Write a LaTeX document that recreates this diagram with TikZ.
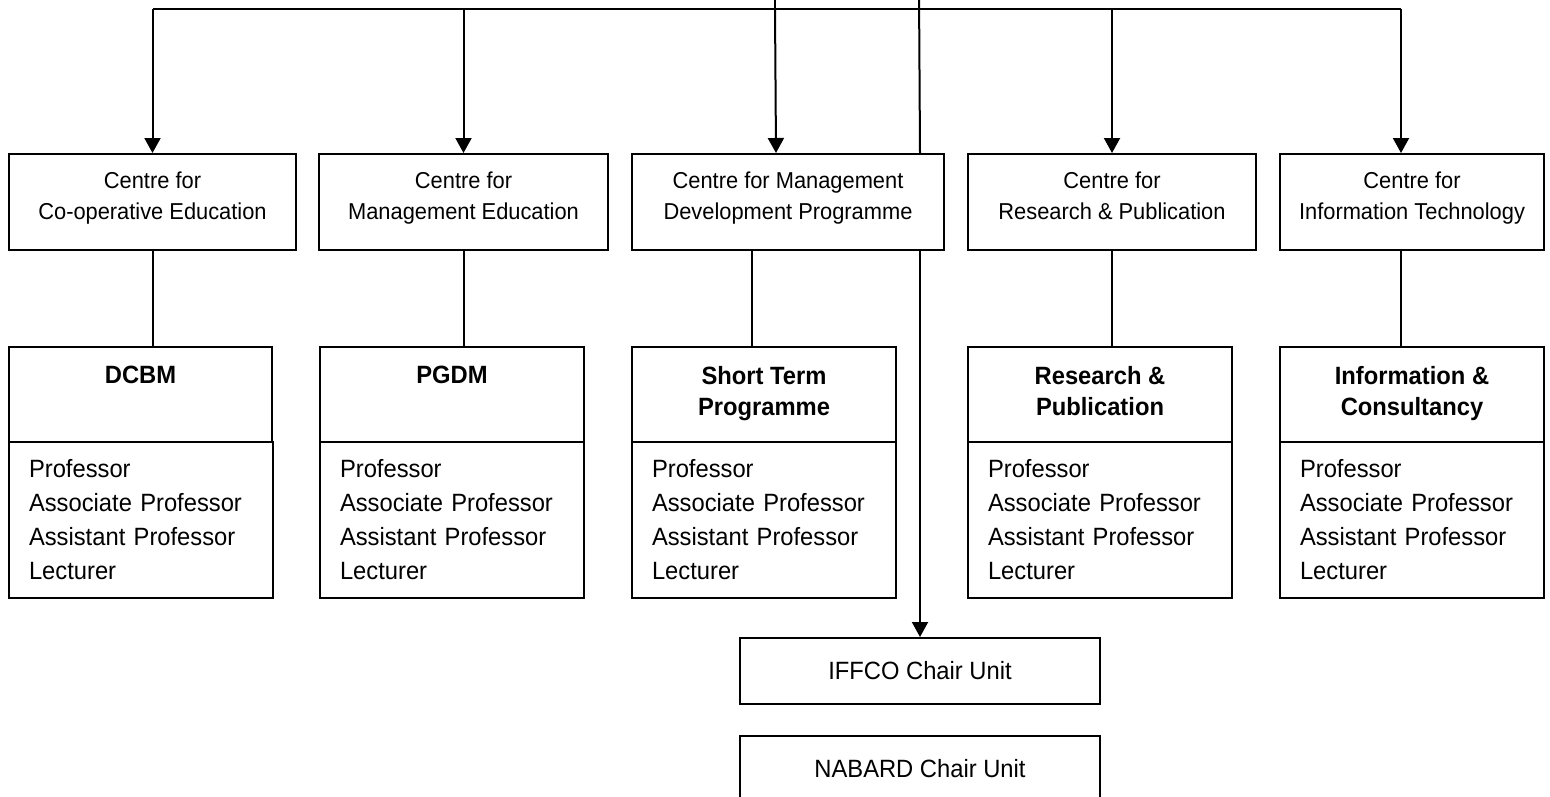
\documentclass[tikz,border=0pt]{standalone}
\usepackage{fontspec}
\setmainfont{Liberation Sans}[FakeStretch=0.95]
\usetikzlibrary{arrows.meta}
\begin{document}
\begin{tikzpicture}[x=1pt,y=-1pt,
  line width=2pt,
  box/.style={draw, line width=2pt, inner sep=0pt, anchor=north west, fill=white},
  lbl/.style={inner sep=0pt, align=center, font=\fontsize{23}{31}\selectfont},
  ttl/.style={inner sep=0pt, align=center, font=\fontsize{25}{31}\selectfont\bfseries},
  staff/.style={box, inner xsep=20pt, inner ysep=0pt, align=left, text width=224pt,
    minimum height=156pt, font=\fontsize{25}{34}\selectfont},
  unit/.style={box, minimum width=360pt, minimum height=66pt, font=\fontsize{25}{30}\selectfont},
  arr/.style={-{Triangle[width=16pt,length=15pt]}}]
\clip (0,0) rectangle (1550,796);
\useasboundingbox (0,0) rectangle (1550,796);

% row 1: centres
\node[box, minimum width=287pt, minimum height=96pt] (r1a) at (8,153) {};
\node[box, minimum width=289pt, minimum height=96pt] (r1b) at (318,153) {};
\node[box, minimum width=312pt, minimum height=96pt] (r1c) at (631,153) {};
\node[box, minimum width=288pt, minimum height=96pt] (r1d) at (967,153) {};
\node[box, minimum width=264pt, minimum height=96pt] (r1e) at (1279,153) {};

\node[lbl, anchor=north] (l1a) at ([yshift=-18pt]r1a.north) {Centre for\\Co-operative Education};
\node[lbl, anchor=north] (l1b) at ([yshift=-18pt]r1b.north) {Centre for\\Management Education};
\node[lbl, anchor=north] (l1c) at ([yshift=-18pt]r1c.north) {Centre for Management\\Development Programme};
\node[lbl, anchor=north] (l1d) at ([yshift=-18pt]r1d.north) {Centre for\\Research \& Publication};
\node[lbl, anchor=north] (l1e) at ([yshift=-18pt]r1e.north) {Centre for\\Information Technology};

% row 2: programme titles
\node[box, minimum width=263pt, minimum height=95pt] (t2a) at (8,346) {};
\node[box, minimum width=264pt, minimum height=95pt] (t2b) at (319,346) {};
\node[box, minimum width=264pt, minimum height=95pt] (t2c) at (631,346) {};
\node[box, minimum width=264pt, minimum height=95pt] (t2d) at (967,346) {};
\node[box, minimum width=264pt, minimum height=95pt] (t2e) at (1279,346) {};

\node[ttl, anchor=north] (h2a) at ([yshift=-19pt]t2a.north) {DCBM};
\node[ttl, anchor=north] (h2b) at ([yshift=-19pt]t2b.north) {PGDM};
\node[ttl, anchor=north] (h2c) at ([yshift=-19pt]t2c.north) {Short Term\\Programme};
\node[ttl, anchor=north] (h2d) at ([yshift=-19pt]t2d.north) {Research \&\\Publication};
\node[ttl, anchor=north] (h2e) at ([yshift=-19pt]t2e.north) {Information \&\\Consultancy};

% row 2: staff
\node[staff] (s2a) at (8,441) {Professor\\Associate Professor\\Assistant Professor\\Lecturer};
\node[staff] (s2b) at (319,441) {Professor\\Associate Professor\\Assistant Professor\\Lecturer};
\node[staff] (s2c) at (631,441) {Professor\\Associate Professor\\Assistant Professor\\Lecturer};
\node[staff] (s2d) at (967,441) {Professor\\Associate Professor\\Assistant Professor\\Lecturer};
\node[staff] (s2e) at (1279,441) {Professor\\Associate Professor\\Assistant Professor\\Lecturer};

% chair units
\node[unit] (iffco) at (739,637) {IFFCO Chair Unit};
\node[unit] (nabard) at (739,735) {NABARD Chair Unit};

% top bus
\coordinate (bus) at (0,9);
\coordinate (p1) at (775,-10);
\coordinate (p2) at (919,-10);
\coordinate (ae) at ([xshift=-11pt]r1e.north);
\coordinate (ac) at ([xshift=-12pt]r1c.north);

\draw (r1a.north |- bus) -- (ae |- bus);
\draw (p1) -- (p1 |- bus);
\draw[arr] (r1a.north |- bus) -- (r1a.north);
\draw[arr] (r1b.north |- bus) -- (r1b.north);
\draw[arr] (p1 |- bus) -- (ac);
\draw[arr] (r1d.north |- bus) -- (r1d.north);
\draw[arr] (ae |- bus) -- (ae);

% through line to IFFCO
\draw (p2) -- (r1c.north -| iffco.north);
\draw[arr] (r1c.south -| iffco.north) -- (iffco.north);

% centre to programme
\draw (r1a.south) -- (r1a.south |- t2a.north);
\draw (r1b.south) -- (r1b.south |- t2b.north);
\draw ([xshift=-12pt]t2c.north |- r1c.south) -- ([xshift=-12pt]t2c.north);
\draw (r1d.south) -- (r1d.south |- t2d.north);
\draw (ae |- r1e.south) -- (ae |- t2e.north);
\end{tikzpicture}
\end{document}
